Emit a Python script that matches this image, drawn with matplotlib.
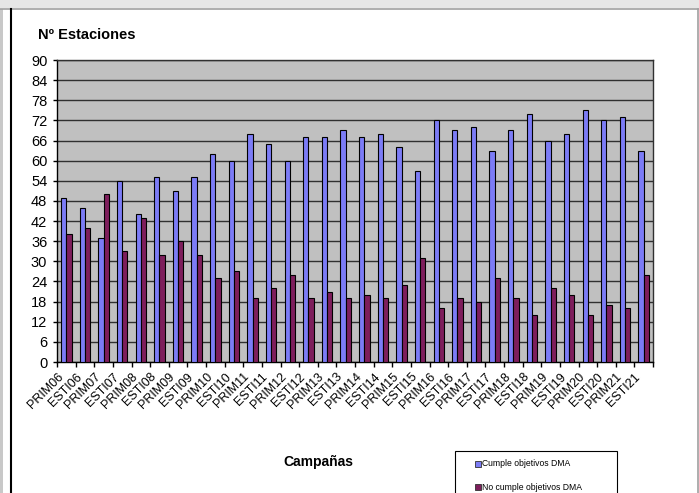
import numpy as np
import matplotlib
matplotlib.use('Agg')
import matplotlib.pyplot as plt
from matplotlib.patches import Rectangle
from matplotlib.lines import Line2D
import matplotlib.transforms as mtrans

plt.rcParams['font.family'] = ['Liberation Sans', 'DejaVu Sans']

campanas = ['PRIM06', 'ESTI06', 'PRIM07', 'ESTI07', 'PRIM08', 'ESTI08',
            'PRIM09', 'ESTI09', 'PRIM10', 'ESTI10', 'PRIM11', 'ESTI11',
            'PRIM12', 'ESTI12', 'PRIM13', 'ESTI13', 'PRIM14', 'ESTI14',
            'PRIM15', 'ESTI15', 'PRIM16', 'ESTI16', 'PRIM17', 'ESTI17',
            'PRIM18', 'ESTI18', 'PRIM19', 'ESTI19', 'PRIM20', 'ESTI20',
            'PRIM21', 'ESTI21']
cumple = [49, 46, 37, 54, 44, 55, 51, 55, 62, 60, 68, 65, 60, 67, 67, 69,
          67, 68, 64, 57, 72, 69, 70, 63, 69, 74, 66, 68, 75, 72, 73, 63]
no_cumple = [38, 40, 50, 33, 43, 32, 36, 32, 25, 27, 19, 22, 26, 19, 21, 19,
             20, 19, 23, 31, 16, 19, 18, 25, 19, 14, 22, 20, 14, 17, 16, 26]
yticks = list(range(0, 91, 6))

c_blue = '#7c7cf6'
c_red = '#7e1e5c'

W, H = 699, 493
fig = plt.figure(figsize=(W / 100, H / 100), dpi=100)

# frame like the original screenshot
fig.patches.append(Rectangle((0, 1 - 8 / H), 1, 8 / H, transform=fig.transFigure,
                             facecolor='#e6e6e6', edgecolor='none'))
fig.lines.append(Line2D([0, 1], [1 - 8.5 / H, 1 - 8.5 / H], transform=fig.transFigure,
                        color='#a0a0a0', lw=1.2))
fig.patches.append(Rectangle((0, 0), 3 / W, 1 - 9 / H, transform=fig.transFigure,
                             facecolor='#c8c8c8', edgecolor='none'))
fig.lines.append(Line2D([10.5 / W, 10.5 / W], [0, 1 - 9 / H], transform=fig.transFigure,
                        color='black', lw=1.5))
fig.lines.append(Line2D([697.5 / W, 697.5 / W], [0, 1 - 9 / H], transform=fig.transFigure,
                        color='#a0a0a0', lw=1.2))

ax = fig.add_axes([57 / W, 1 - 362 / H, 596 / W, 302 / H])
ax.set_facecolor('#c0c0c0')

x = np.arange(len(campanas))
w = 0.28
ax.bar(x - w / 2, cumple, w, color=c_blue, edgecolor='black', linewidth=0.8, zorder=3)
ax.bar(x + w / 2, no_cumple, w, color=c_red, edgecolor='black', linewidth=0.8, zorder=3)

ax.set_xlim(-0.5, len(campanas) - 0.5)
ax.set_ylim(0, 90)
ax.set_yticks(yticks)
ax.yaxis.grid(True, color='#303030', linewidth=1.0, zorder=1)
ax.set_axisbelow(True)
for s in ax.spines.values():
    s.set_color('#303030')
    s.set_linewidth(1.0)
ax.spines['left'].set_color('black')
ax.spines['bottom'].set_color('black')

ax.tick_params(axis='y', direction='out', length=3, width=1, pad=4, labelsize=10.5)
ax.set_xticks(x)
ax.set_xticks(np.arange(-0.5, len(campanas), 1), minor=True)
ax.tick_params(axis='x', which='major', length=0, pad=0)
ax.tick_params(axis='x', which='minor', direction='out', length=3.5, width=1)
offset = mtrans.ScaledTranslation(-5 / 100, -13 / 100, fig.dpi_scale_trans)
ax.set_xticklabels(campanas, rotation=45, ha='right', va='center',
                   rotation_mode='anchor', fontsize=9)
for lab in ax.get_xticklabels():
    lab.set_transform(lab.get_transform() + offset)

fig.text(38 / W, 1 - 35 / H, 'Nº Estaciones', fontsize=10.5, fontweight='bold',
         ha='left', va='center')
fig.text(318 / W, 1 - 462 / H, 'Campañas', fontsize=10, fontweight='bold',
         ha='center', va='center')

# legend box (cut at the bottom edge as in the original)
fig.patches.append(Rectangle((455 / W, -0.05), 162 / W, 0.05 + 1 - 451 / H,
                             transform=fig.transFigure, facecolor='white',
                             edgecolor='black', lw=0.8))
for yy, col, txt in [(464, c_blue, 'Cumple objetivos DMA'),
                     (487, c_red, 'No cumple objetivos DMA')]:
    fig.patches.append(Rectangle((475 / W, 1 - (yy + 3) / H), 6 / W, 6 / H,
                                 transform=fig.transFigure, facecolor=col,
                                 edgecolor='#303030', lw=0.6))
    fig.text(482 / W, 1 - yy / H, txt, fontsize=6.2, ha='left', va='center')

fig.savefig('out.png', dpi=100)
